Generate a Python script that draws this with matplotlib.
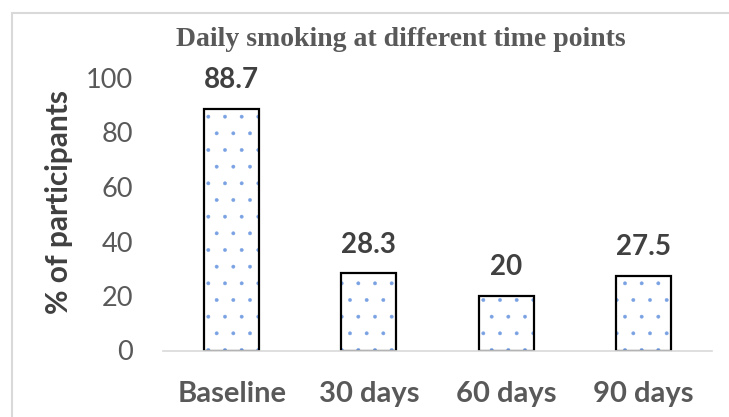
import matplotlib
matplotlib.use("Agg")
import matplotlib.pyplot as plt
import matplotlib.patches as patches
import numpy as np

# data
categories = ["Baseline", "30 days", "60 days", "90 days"]
values = [88.7, 28.3, 20, 27.5]
yticks = [0, 20, 40, 60, 80, 100]

W, H = 729, 417
plt.rcParams["font.family"] = ["Lato", "DejaVu Sans"]
plt.rcParams["hatch.linewidth"] = 0.3

fig = plt.figure(figsize=(W / 100, H / 100), dpi=100)
ax = fig.add_axes([163 / W, (H - 350.5) / H, 549 / W, (350.5 - 78) / H])

x = np.arange(len(categories))
# dotted fill, then a black outline on top
ax.bar(x, values, width=0.4, color="white", edgecolor="#7aa2e3",
       hatch=".", linewidth=0)
ax.bar(x, values, width=0.4, fill=False, edgecolor="black", linewidth=1.6)

for xi, v in zip(x, values):
    ax.annotate(f"{v:g}", (xi, v), xytext=(0, 14.8), textcoords="offset points",
                ha="center", va="baseline", fontsize=20, fontweight="bold",
                color="#404040")

ax.set_xlim(-0.5, len(categories) - 0.5)
ax.set_ylim(0, 100)
ax.set_yticks(yticks)
ax.set_xticks(x)
ax.set_xticklabels(categories, fontsize=21, fontweight="bold", color="#595959")
ax.tick_params(axis="y", length=0, pad=21.6, labelsize=19.5, labelcolor="#595959")
ax.tick_params(axis="x", length=0, pad=22)

for s in ["left", "right", "top"]:
    ax.spines[s].set_visible(False)
ax.spines["bottom"].set_color("#d9d9d9")
ax.spines["bottom"].set_linewidth(1.2)

fig.text(59 / W, 215 / H, "% of participants", rotation=90, ha="center",
         va="center", fontsize=21.5, fontweight="bold", color="#404040")

fig.text(401 / W, (H - 46) / H, "Daily smoking at different time points",
         ha="center", va="baseline", fontsize=20, fontweight="bold",
         color="#595959", family="Liberation Serif")

# chart frame
frame = patches.Rectangle((12 / W, -0.5), 2, (H - 13) / H + 0.5,
                          transform=fig.transFigure, fill=False,
                          edgecolor="#d9d9d9", linewidth=1.5, clip_on=False)
fig.patches.append(frame)

fig.savefig("out.png", dpi=100)
